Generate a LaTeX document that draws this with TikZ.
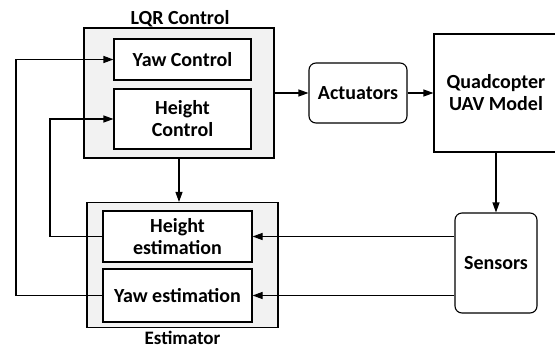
\documentclass[tikz,border=0pt]{standalone}
\usepackage{fontspec}
\setmainfont{Carlito}
\usetikzlibrary{arrows.meta}
\definecolor{panel}{HTML}{F2F2F2}
\begin{document}
\begin{tikzpicture}[x=1pt,y=-1pt,
  every node/.style={font=\bfseries\fontsize{20}{22}\selectfont, text=black, align=center},
  panelbox/.style={draw, fill=panel, line width=1.1pt, inner sep=0pt},
  blockbox/.style={draw, fill=white, line width=1.1pt, inner sep=0pt},
  roundbox/.style={blockbox, rounded corners=7pt},
  labeltext/.style={inner sep=0pt, text depth=0pt, anchor=base, align=none},
  conn/.style={line width=1.1pt, -{Triangle[length=10pt,width=7pt]}}]
\useasboundingbox (0,0) rectangle (555,349);
% panels
\node[panelbox, minimum width=190pt, minimum height=130pt] (lqr) at (179,93) {};
\node[labeltext] (lqrlabel) at (180,24.5) {LQR Control};
\node[panelbox, minimum width=191pt, minimum height=125pt] (est) at (182.5,265) {};
\node[labeltext, font=\bfseries\fontsize{19}{21}\selectfont] (estlabel) at (182.5,344.5) {Estimator};
% inner blocks
\node[blockbox, minimum width=137pt, minimum height=41pt] (yctrl) at (182.5,59.5) {Yaw Control};
\node[blockbox, minimum width=137pt, minimum height=60pt] (hctrl) at (182.5,119) {Height\\Control};
\node[blockbox, minimum width=149pt, minimum height=51pt] (hest) at (177.5,236.5) {Height\\estimation};
\node[blockbox, minimum width=149pt, minimum height=53pt] (yest) at (177.5,295.5) {Yaw estimation};
% other blocks
\node[roundbox, minimum width=98pt, minimum height=60pt] (act) at (358,93) {Actuators};
\node[blockbox, minimum width=124pt, minimum height=118pt] (quad) at (496,93) {Quadcopter\\UAV Model};
\node[roundbox, minimum width=82pt, minimum height=100pt] (sens) at (496,263) {Sensors};
\coordinate (hfb) at (50,236.5);
\coordinate (yfb) at (16,295.5);
% connectors
\draw[conn] (lqr.east) -- (act.west);
\draw[conn] (act.east) -- (quad.west);
\draw[conn] (quad.south) -- (sens.north);
\draw[conn] (lqr.south) -- (lqr.south |- est.north);
\draw[conn] (sens.west |- hest.east) -- (hest.east);
\draw[conn] (sens.west |- yest.east) -- (yest.east);
\draw[conn] (hest.west) -- (hfb) |- (hctrl.west);
\draw[conn] (yest.west) -- (yfb) |- (yctrl.west);
\end{tikzpicture}
\end{document}
